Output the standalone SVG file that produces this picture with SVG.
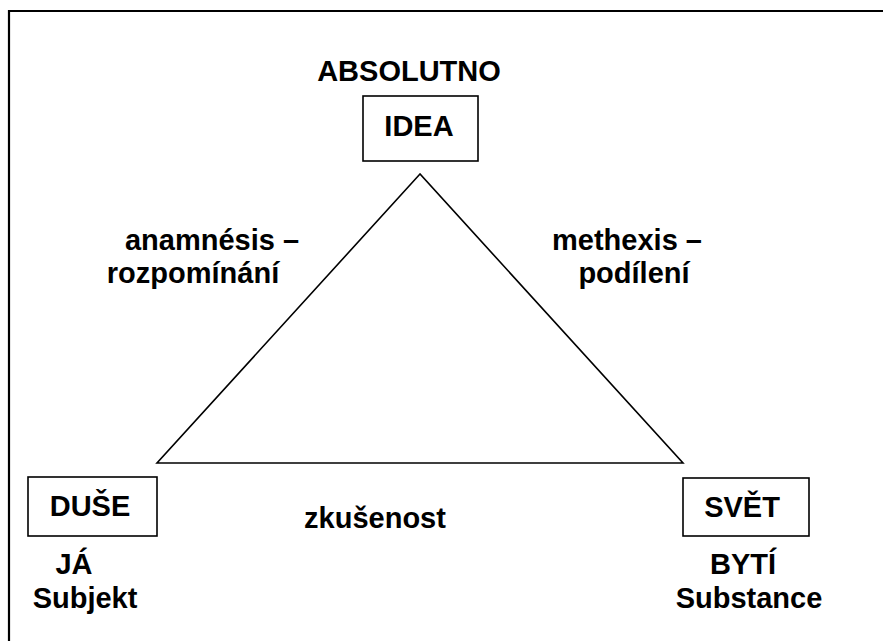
<svg xmlns="http://www.w3.org/2000/svg" width="883" height="641" viewBox="0 0 883 641">
<style>
text{font-family:"Liberation Sans",Arial,sans-serif;font-weight:bold;font-size:29px;fill:#000}
.box{fill:#fff;stroke:#000;stroke-width:1.6}
.edge{fill:none;stroke:#000;stroke-width:1.6}
</style>
<rect width="883" height="641" fill="#fff"/>
<g id="frame"><path d="M9 641V11H883" fill="none" stroke="#000" stroke-width="2.2"/></g>
<g id="connectors">
<path class="edge" d="M420 174L157 463H683Z"/>
</g>
<g id="absolutno"><text x="409" y="81" text-anchor="middle">ABSOLUTNO</text></g>
<g id="idea"><rect class="box" x="363" y="96" width="115" height="65"/><text x="419" y="136" text-anchor="middle">IDEA</text></g>
<g id="duse"><rect class="box" x="28" y="477" width="129" height="59"/><text x="90" y="516" text-anchor="middle">DUŠE</text></g>
<g id="svet"><rect class="box" x="683" y="478" width="126" height="58"/><text x="742" y="517" text-anchor="middle">SVĚT</text></g>
<g id="ja"><text x="74" y="574" text-anchor="middle">JÁ</text><text x="85" y="608" text-anchor="middle">Subjekt</text></g>
<g id="byti"><text x="743" y="574" text-anchor="middle">BYTÍ</text><text x="749" y="608" text-anchor="middle">Substance</text></g>
<g id="anamnesis"><text x="212" y="250" text-anchor="middle">anamnésis –</text><text x="193" y="283" text-anchor="middle">rozpomínání</text></g>
<g id="methexis"><text x="627" y="250" text-anchor="middle">methexis –</text><text x="634" y="283" text-anchor="middle">podílení</text></g>
<g id="zkusenost"><text x="375" y="528" text-anchor="middle">zkušenost</text></g>
</svg>
